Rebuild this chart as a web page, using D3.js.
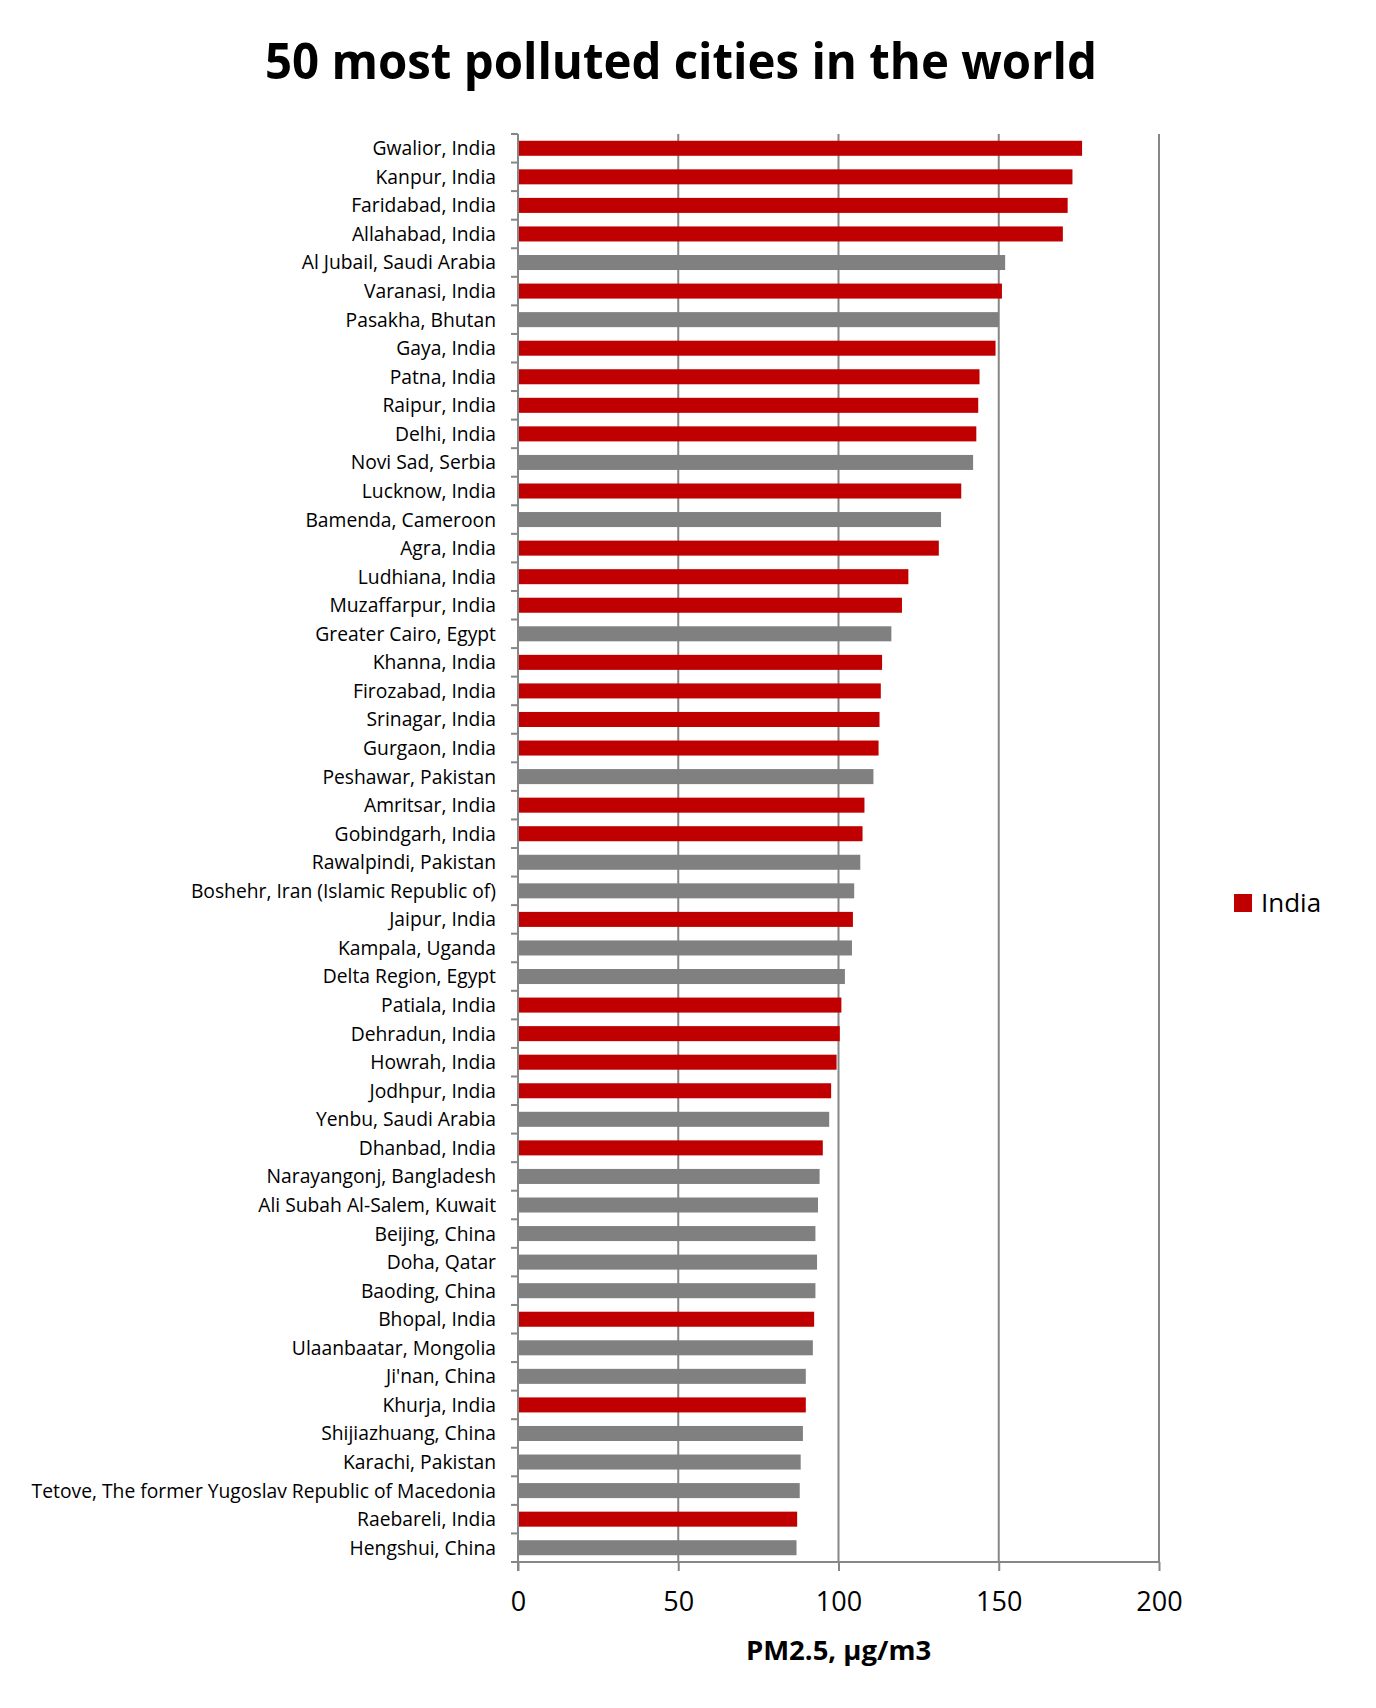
<!DOCTYPE html>
<html>
<head>
<meta charset="utf-8">
<script src="https://cdn.jsdelivr.net/npm/d3@7"></script>
<style>
  html, body { margin: 0; padding: 0; background: #fff; }
  svg { display: block; }
</style>
</head>
<body>
<script>
const cities = [
  "Gwalior, India", "Kanpur, India", "Faridabad, India", "Allahabad, India",
  "Al Jubail, Saudi Arabia", "Varanasi, India", "Pasakha, Bhutan", "Gaya, India",
  "Patna, India", "Raipur, India", "Delhi, India", "Novi Sad, Serbia",
  "Lucknow, India", "Bamenda, Cameroon", "Agra, India", "Ludhiana, India",
  "Muzaffarpur, India", "Greater Cairo, Egypt", "Khanna, India", "Firozabad, India",
  "Srinagar, India", "Gurgaon, India", "Peshawar, Pakistan", "Amritsar, India",
  "Gobindgarh, India", "Rawalpindi, Pakistan", "Boshehr, Iran (Islamic Republic of)", "Jaipur, India",
  "Kampala, Uganda", "Delta Region, Egypt", "Patiala, India", "Dehradun, India",
  "Howrah, India", "Jodhpur, India", "Yenbu, Saudi Arabia", "Dhanbad, India",
  "Narayangonj, Bangladesh", "Ali Subah Al-Salem, Kuwait", "Beijing, China", "Doha, Qatar",
  "Baoding, China", "Bhopal, India", "Ulaanbaatar, Mongolia", "Ji'nan, China",
  "Khurja, India", "Shijiazhuang, China", "Karachi, Pakistan", "Tetove, The former Yugoslav Republic of Macedonia",
  "Raebareli, India", "Hengshui, China"
];
const pm25 = [
  176, 173, 171.5, 170,
  152, 151, 150, 149,
  144, 143.6, 143, 142,
  138.3, 132, 131.3, 121.8,
  119.8, 116.5, 113.6, 113.2,
  112.8, 112.5, 110.9, 108.1,
  107.5, 106.8, 104.9, 104.5,
  104.2, 102, 100.9, 100.4,
  99.4, 97.7, 97.1, 95.1,
  94.1, 93.6, 92.8, 93.3,
  92.8, 92.4, 92, 89.8,
  89.8, 88.9, 88.2, 87.9,
  87.1, 86.9
];
const isIndia = cities.map(c => /, India$/.test(c));
const xTicks = [0, 50, 100, 150, 200];
const titleText = "50 most polluted cities in the world";
const xTitle = "PM2.5, µg/m3";
const legendLabel = "India";

const W = 1376, H = 1708;
const FONT = "'Open Sans', 'Noto Sans', sans-serif";
const RED = "#C00000", GRAY = "#808080", GRID = "#878787";

const svg = d3.select("body").append("svg").attr("width", W).attr("height", H);

const x = d3.scaleLinear().domain([0, 200]).range([518, 1159]);
const y = d3.scaleBand().domain(cities).range([134, 1562])
  .paddingInner(0.9 / 1.9).paddingOuter(0.45 / 1.9);

// Title
svg.append("text")
  .attr("x", 681).attr("y", 79)
  .attr("text-anchor", "middle")
  .attr("font-family", FONT).attr("font-weight", 700)
  .attr("font-size", 50)
  .attr("textLength", 832).attr("lengthAdjust", "spacingAndGlyphs")
  .attr("fill", "#000")
  .text(titleText);

// Vertical gridlines
svg.append("g").selectAll("line")
  .data(xTicks.slice(1))
  .join("line")
  .attr("x1", d => x(d)).attr("x2", d => x(d))
  .attr("y1", y.range()[0]).attr("y2", y.range()[1])
  .attr("stroke", GRID).attr("stroke-width", 2);

// Bars
svg.append("g").selectAll("rect")
  .data(cities)
  .join("rect")
  .attr("x", x(0))
  .attr("y", d => y(d))
  .attr("width", (d, i) => x(pm25[i]) - x(0))
  .attr("height", y.bandwidth())
  .attr("fill", (d, i) => isIndia[i] ? RED : GRAY);

// Category axis (left)
const step = y.step();
const boundaries = d3.range(cities.length + 1).map(i => y.range()[0] + i * step);
const gy = svg.append("g");
gy.append("line")
  .attr("x1", x(0)).attr("x2", x(0))
  .attr("y1", y.range()[0]).attr("y2", y.range()[1] + 9)
  .attr("stroke", GRID).attr("stroke-width", 2);
gy.selectAll("line.tick")
  .data(boundaries)
  .join("line").attr("class", "tick")
  .attr("x1", x(0) - 7).attr("x2", x(0))
  .attr("y1", d => d).attr("y2", d => d)
  .attr("stroke", GRID).attr("stroke-width", 2);

const yAxis = d3.axisLeft(y).tickSize(0).tickPadding(22);
const gyl = svg.append("g").attr("transform", `translate(${x(0)},0)`).call(yAxis);
gyl.select(".domain").remove();
gyl.selectAll("text")
  .attr("font-family", FONT).attr("font-size", 19.3)
  .attr("fill", "#000").attr("dy", "0.36em");

// X axis (bottom)
const xAxis = d3.axisBottom(x).tickValues(xTicks).tickSize(9).tickPadding(21).tickFormat(d3.format("d"));
const gx = svg.append("g").attr("transform", `translate(0,${y.range()[1]})`).call(xAxis);
gx.select(".domain").attr("stroke", GRID).attr("stroke-width", 2).attr("d", `M${x(0)},0H${x(200)}`);
gx.selectAll(".tick line").attr("stroke", GRID).attr("stroke-width", 2);
gx.selectAll("text")
  .attr("font-family", FONT).attr("font-size", 27).attr("fill", "#000");

// X axis title
svg.append("text")
  .attr("x", x(100)).attr("y", 1660)
  .attr("text-anchor", "middle")
  .attr("font-family", FONT).attr("font-weight", 700).attr("font-size", 27.5)
  .attr("fill", "#000")
  .text(xTitle);

// Legend
const lg = svg.append("g");
lg.append("rect").attr("x", 1234).attr("y", 894).attr("width", 18).attr("height", 18).attr("fill", RED);
lg.append("text").attr("x", 1261).attr("y", 912)
  .attr("font-family", FONT).attr("font-size", 26).attr("fill", "#000")
  .text(legendLabel);
</script>
</body>
</html>
